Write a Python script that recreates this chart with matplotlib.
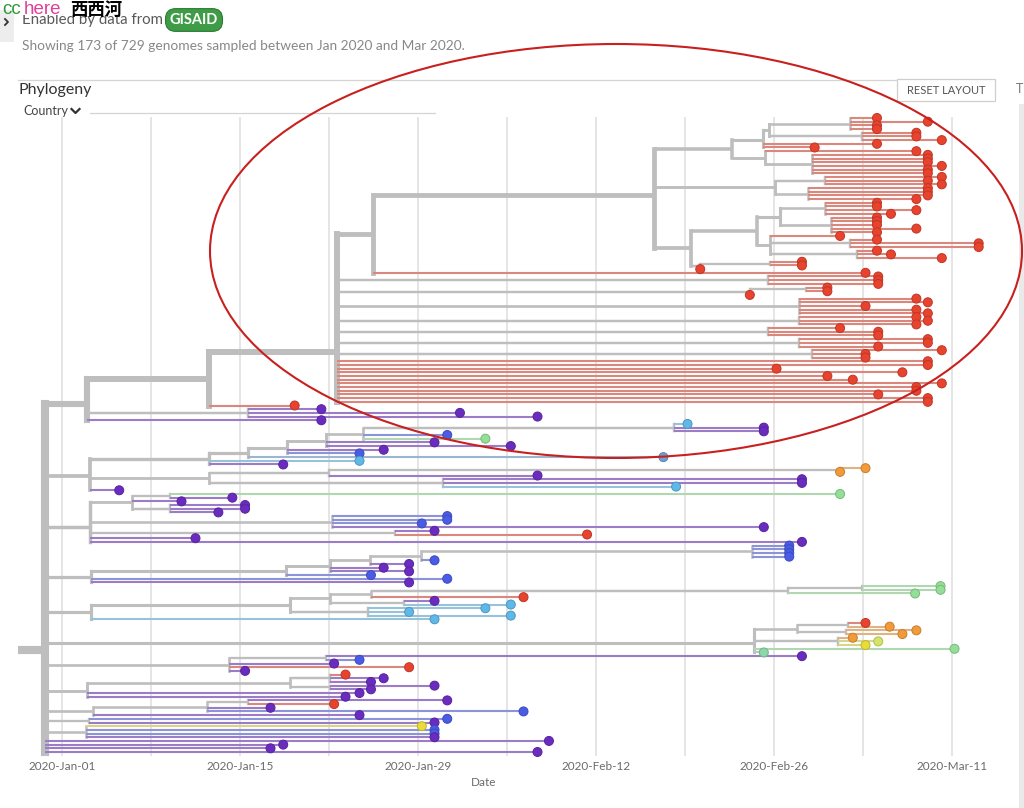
import matplotlib
matplotlib.use("Agg")
import matplotlib.pyplot as plt
import matplotlib.colors as mcolors
import numpy as np
from matplotlib.collections import LineCollection
from matplotlib.patches import Ellipse, Rectangle
from matplotlib.lines import Line2D

plt.rcParams['font.family'] = ['Lato', 'DejaVu Sans']

# --- Data: tree clades, "(children):node_date", tips "CODE:date" (days since 2020-01-01) ---
clade_a = """(((((((((R:64.1,R:68.1,R:64.1,R:64.1):62.0,(R:67.2,R:67.2,R:69.2):62.9):55.6,R:64.1,R:59.2):55.1,
 (R:67.2,(R:68.1,R:68.1,R:68.1,R:69.2,R:68.1,R:68.1):59.0):55.3):52.7,
 ((R:69.2,R:68.1,R:69.2):60.0,(R:68.1,R:68.1,R:68.1,R:67.2):58.7):56.1,
 ((((R:64.1,R:64.1,R:67.2,R:65.2):60.0,(R:64.1,R:64.1,R:64.1,R:67.2,R:64.1):60.5):56.5,
   (R:61.2,(R:64.1,R:72.1,R:72.1):62.0,(R:64.1,R:65.2,R:69.2):62.5):55.7):54.7,
  ((R:58.2,R:58.2):55.7,R:50.2):50.2):49.5):46.6,R:63.2):24.5,
 (R:64.2,R:64.2,R:64.2):55.5,((R:60.2,R:60.2):58.5,R:54.1):54.1,
 (R:67.2,R:68.1,R:63.2,R:67.2,R:68.1):58.0,(R:67.2,R:68.1,R:67.2):58.0,
 (R:61.2,R:64.2,R:64.2):55.5,(R:68.1,R:68.1,R:64.2):58.0,(R:69.2,R:63.2,R:63.2):59.0,
 R:68.1,R:68.1,R:56.2,R:66.1,R:60.2,R:62.2,R:69.2,R:67.2,R:67.2,R:64.2,R:68.1,R:68.1):21.6,
 R:18.3):11.6,(P:20.4,P:31.3,P:37.4):14.6,P:20.4):2.0"""
clade_b = """(((((((C:49.2,P:55.2,P:55.2):48.1,B:30.3,G:33.3):23.7,P:29.3,P:35.3):20.8,P:25.3,B:23.4):17.7,
 S:47.3):14.6,C:23.4,P:17.4):11.6,(((O:63.2,O:61.2):61.2,P:37.4):21.0,(P:58.2,P:58.2,C:48.3):30.0):11.6,
 P:4.5):2.2"""
clade_c = """(((G:61.2,P:13.4):8.5,P:9.4,(P:14.4,P:14.4,P:12.3):8.5):5.5,(B:30.3,B:30.3,B:28.3,P:55.2):21.2,
 (P:29.3,R:41.3):26.2,P:10.5,P:58.2):2.2"""
clade_d = """((((((B:57.2,B:57.2,B:57.2,B:57.2):54.3,B:29.3):28.2,P:27.3):24.2,P:25.3,P:27.3):21.1,B:24.3):17.6,
 B:30.3,P:27.3):2.3"""
clade_e = """((((((G:69.1,G:69.1):62.9,G:67.1):57.1,R:36.3):24.3,(P:29.3,C:35.3):26.9):21.1,
 (C:33.3,C:27.3,C:35.3):24.1):17.9,C:29.3):2.3"""
clade_f = "(((R:63.2,O:65.1):61.8,(O:67.2,O:66.1):61.7):57.8,(O:62.2,L:64.2,Y:63.2):61.0,G:70.2,T:55.2):54.4"
clade_g = "((P:58.2,B:23.4):20.8,P:21.4,R:27.3,P:14.4):13.1"
clade_h = "(((R:22.3,P:25.3,P:24.3):21.1,(P:29.3,P:24.3):21.1):17.9,P:23.4,P:22.3):2.0"
clade_i = "(((P:30.3,R:21.4):14.6,P:16.4,B:36.3):11.4,P:23.4):2.4"
clade_j = "(B:30.3,P:29.3):2.1"
clade_k = "(Y:28.3,B:29.3,B:29.3,P:29.3):1.9"
root_tips = ["P:38.3", "P:17.4", "P:16.4", "P:37.4"]
root_date = -1.34
stem_date = -3.46

tick_days = [0, 14, 28, 42, 56, 70]
tick_labels = ["2020-Jan-01", "2020-Jan-15", "2020-Jan-29", "2020-Feb-12", "2020-Feb-26", "2020-Mar-11"]
grid_days = [0, 7, 14, 21, 28, 35, 42, 49, 56, 63, 70]

# --- Styling ---
colors = {'R': '#E8432E', 'P': '#6A2CBF', 'B': '#4A5BE6', 'C': '#5FB8E8', 'G': '#93DF98',
          'O': '#F29A3A', 'Y': '#E8DC3A', 'L': '#D4E466', 'T': '#8BD8A8', 'S': '#6E9FD2'}
branch_gray = '#BEBEBE'


def parse_tree(text):
    s = ''.join(text.split())
    pos = 0

    def read_date():
        nonlocal pos
        start = pos
        while pos < len(s) and s[pos] not in ',)':
            pos += 1
        return float(s[start:pos])

    def read_node():
        nonlocal pos
        if s[pos] == '(':
            pos += 1
            kids = [read_node()]
            while s[pos] == ',':
                pos += 1
                kids.append(read_node())
            pos += 2
            return {'kids': kids, 'date': read_date()}
        code = s[pos]
        pos += 2
        return {'code': code, 'date': read_date()}

    return read_node()


clades = [clade_a, clade_b, clade_c, clade_d, clade_e, clade_f, clade_g,
          clade_h, clade_i, clade_j, clade_k] + root_tips
root = {'kids': [parse_tree(c) for c in clades], 'date': root_date}

counter = [0]


def layout(nd):
    if 'kids' in nd:
        for k in nd['kids']:
            layout(k)
        nd['y'] = np.mean([k['y'] for k in nd['kids']])
        nd['n'] = sum(k['n'] for k in nd['kids'])
    else:
        nd['y'] = counter[0]
        counter[0] += 1
        nd['n'] = 1


layout(root)


def mute(c, f=0.5):
    rgb = np.array(mcolors.to_rgb(c))
    return tuple(f * rgb + (1 - f) * np.array([0.80, 0.80, 0.80]))


def width_pt(n):
    return (1.6 + 6.5 * np.sqrt(n / 173.0)) * 0.72


gray_h, gray_w = [], []
tip_h, tip_c, tip_w = [], [], []
vert, vert_w = [], []
tips = []


def collect(nd, parent_date):
    lw = width_pt(nd['n'])
    seg = [(parent_date, nd['y']), (nd['date'], nd['y'])]
    if 'kids' in nd:
        ys = [k['y'] for k in nd['kids']]
        vert.append([(nd['date'], min(ys)), (nd['date'], max(ys))])
        vert_w.append(lw)
        gray_h.append(seg)
        gray_w.append(lw)
        for k in nd['kids']:
            collect(k, nd['date'])
    else:
        tip_h.append(seg)
        tip_c.append(mute(colors[nd['code']]))
        tip_w.append(lw)
        tips.append(nd)


collect(root, stem_date)

# --- Figure ---
W, H = 1024, 808
fig = plt.figure(figsize=(W / 100, H / 100), dpi=100, facecolor='white')


def fx(px):
    return px / W


def fy(py):
    return 1 - py / H


X0, PX_DAY, Y0, PX_TIP = 62, 12.714, 118, 3.686
ax_top, ax_bot = 100, 757
ax = fig.add_axes([0, fy(ax_bot), 1, (ax_bot - ax_top) / H])
ax.set_facecolor('none')
ax.set_xlim((0 - X0) / PX_DAY, (W - X0) / PX_DAY)
ax.set_ylim((ax_bot - Y0) / PX_TIP, (ax_top - Y0) / PX_TIP)
for sp in ax.spines.values():
    sp.set_visible(False)
ax.set_yticks([])
ax.set_xticks(tick_days)
ax.set_xticklabels(tick_labels, fontsize=8.5, color='#6b6b6b')
ax.tick_params(axis='x', length=0, pad=3)

ax.vlines(grid_days, -0.3, 173, color='#DEDEDE', lw=1.1, zorder=1)

ax.add_collection(LineCollection(vert, colors=branch_gray, linewidths=vert_w,
                                 capstyle='projecting', zorder=2))
ax.add_collection(LineCollection(gray_h, colors=branch_gray, linewidths=gray_w,
                                 capstyle='butt', zorder=2))
ax.add_collection(LineCollection(tip_h, colors=tip_c, linewidths=tip_w,
                                 capstyle='butt', zorder=3))

tx = [t['date'] for t in tips]
ty = [t['y'] for t in tips]
tc = [colors[t['code']] for t in tips]
te = [tuple(np.array(mcolors.to_rgb(c)) * 0.82) for c in tc]
ax.scatter(tx, ty, s=42, c=tc, edgecolors=te, linewidths=0.7, zorder=5)

# --- Header / UI ---
fig.add_artist(Rectangle((0, fy(42)), fx(14), 32 / H, transform=fig.transFigure,
                         facecolor='#EDEDED', edgecolor='none'))
fig.add_artist(Line2D([fx(5), fx(8), fx(5)], [fy(19), fy(22), fy(25)],
                      transform=fig.transFigure, color='#333333', lw=1.3))
fig.text(fx(22), fy(20), 'Enabled by data from', fontsize=10.8, color='#5a5a5a', va='center')
fig.text(fx(194), fy(20), 'GISAID', fontsize=10.5, color='white', weight='bold',
         ha='center', va='center',
         bbox=dict(boxstyle='round,pad=0.3,rounding_size=0.7', fc='#3E9C47', ec='#2C7A34', lw=0.8))
fig.add_artist(Rectangle((fx(16), fy(15)), fx(110), 15 / H, transform=fig.transFigure,
                         facecolor='white', edgecolor='none', zorder=4))
fig.text(fx(2), fy(10), 'cc', fontsize=13.5, color='#2E9A3A', va='center',
         family='Liberation Sans', zorder=5)
fig.text(fx(24), fy(10), 'here', fontsize=13.5, color='#E0409A', va='center',
         family='Liberation Sans', zorder=5)
fig.text(fx(70), fy(10), '西西河', fontsize=12.5, color='black', va='center',
         family=['Noto Sans CJK SC', 'DejaVu Sans'], weight='bold', zorder=5)
fig.text(fx(22), fy(46), 'Showing 173 of 729 genomes sampled between Jan 2020 and Mar 2020.',
         fontsize=9.9, color='#888888', va='center')

fig.add_artist(Line2D([fx(18), fx(897)], [fy(80), fy(80)], transform=fig.transFigure,
                      color='#D4D4D4', lw=0.9))
fig.add_artist(Rectangle((fx(897), fy(101)), fx(98), 22 / H, transform=fig.transFigure,
                         facecolor='white', edgecolor='#CFCFCF', lw=0.9))
fig.text(fx(946), fy(90.5), 'RESET LAYOUT', fontsize=8, color='#555555', ha='center', va='center')
fig.text(fx(1016), fy(89), 'T', fontsize=9, color='#777777', va='center')
fig.add_artist(Rectangle((fx(1019), 0), fx(5), fy(104), transform=fig.transFigure,
                         facecolor='#EAEAEA', edgecolor='none'))

fig.text(fx(18), fy(90), 'Phylogeny', fontsize=11.5, color='#333333', va='center')
fig.text(fx(23), fy(111), 'Country', fontsize=9, color='#444444', va='center')
fig.add_artist(Line2D([fx(71.5), fx(75.5), fx(79.5)], [fy(109), fy(113), fy(109)],
                      transform=fig.transFigure, color='#333333', lw=1.6))
fig.add_artist(Line2D([fx(90), fx(435)], [fy(113), fy(113)], transform=fig.transFigure,
                      color='#D4D4D4', lw=0.9))

fig.text(fx(484), fy(783), 'Date', fontsize=8.5, color='#6b6b6b', ha='center', va='center')

# red annotation ellipse
fig.add_artist(Ellipse((fx(616), fy(251)), 812 / W, 414 / H, transform=fig.transFigure,
                       fill=False, edgecolor='#C8201E', lw=1.5, zorder=10))

fig.savefig('out.png', dpi=100, facecolor='white')
